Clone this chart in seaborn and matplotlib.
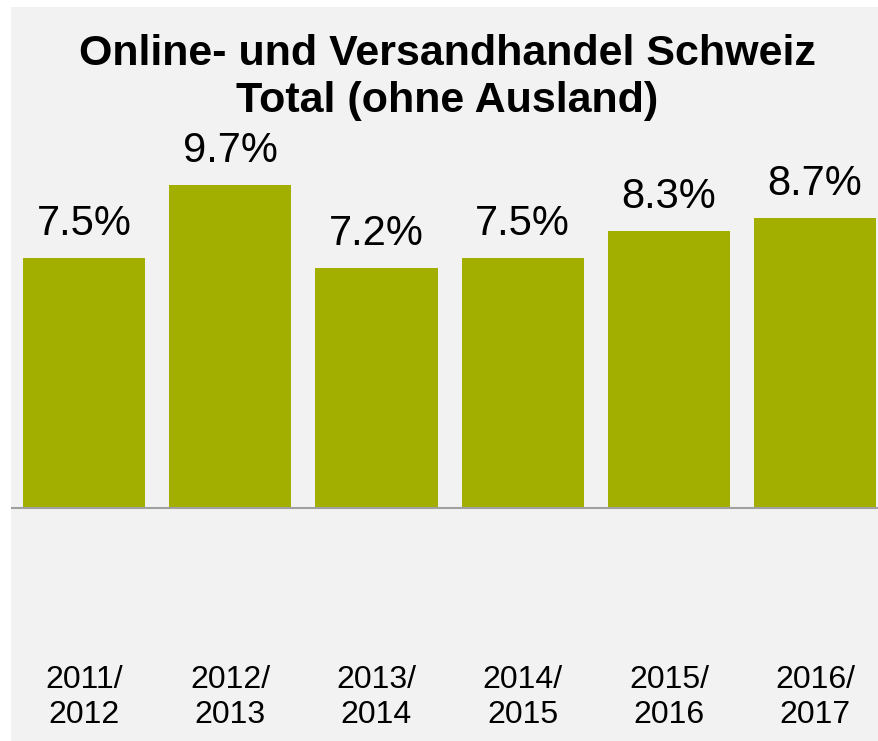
import matplotlib
matplotlib.use("Agg")
import matplotlib.pyplot as plt
import seaborn as sns
import pandas as pd

# Daten
jahre = ["2011/\n2012", "2012/\n2013", "2013/\n2014", "2014/\n2015", "2015/\n2016", "2016/\n2017"]
wachstum = [7.5, 9.7, 7.2, 7.5, 8.3, 8.7]
titel = "Online- und Versandhandel Schweiz\nTotal (ohne Ausland)"

sns.set_style("white")
plt.rcParams["font.family"] = ["Liberation Sans", "DejaVu Sans"]
plt.rcParams["text.color"] = "black"

df = pd.DataFrame({"jahr": jahre, "wert": wachstum})

fig = plt.figure(figsize=(8.79, 7.41), dpi=100)
fig.patch.set_facecolor("white")
# Achse: grauer Bereich ab x=11px, y=7px
ax = fig.add_axes([11 / 879, 0, 868 / 879, 734 / 741])
ax.set_facecolor("#f2f2f2")

sns.barplot(data=df, x="jahr", y="wert", color="#a3af00", saturation=1,
            width=0.835, linewidth=0, edgecolor="none", ax=ax)

px = 33.33  # Pixel pro Prozentpunkt
ax.set_xlim(-0.5, -0.5 + 868 / 146.2)
ax.set_ylim(-(741 - 508) / px, (508 - 7) / px)
ax.axhline(0, color="#a0a0a0", linewidth=1.5)

for i, v in enumerate(wachstum):
    ax.annotate(f"{v}%", (i, v), xytext=(0, 10), textcoords="offset points",
                ha="center", va="bottom", fontsize=30, color="black")
    ax.text(i, -(665 - 508) / px, jahre[i], ha="center", va="top",
            fontsize=23, linespacing=1.2, color="black")

ax.set_xticks([])
ax.set_yticks([])
ax.set_xlabel("")
ax.set_ylabel("")
for s in ax.spines.values():
    s.set_visible(False)

fig.text(447 / 879, 1 - 34 / 741, titel, ha="center", va="top",
         fontsize=31, fontweight="bold", linespacing=1.22, color="black")

fig.savefig("out.png", dpi=100)
